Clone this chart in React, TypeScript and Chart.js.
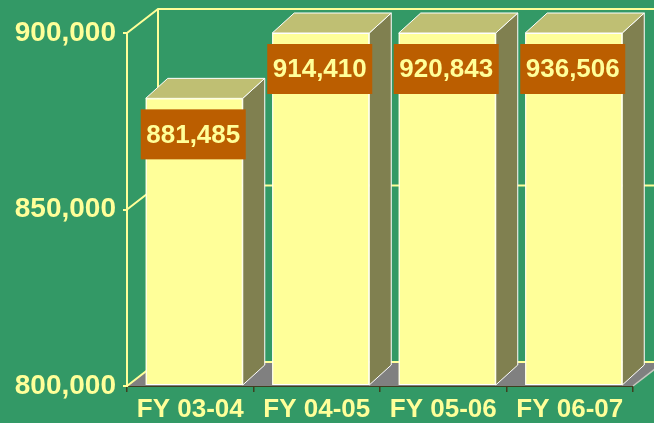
import React, { useEffect, useRef } from "react";
import { Chart, registerables } from "chart.js";

Chart.register(...registerables);

const categories = ["FY 03-04", "FY 04-05", "FY 05-06", "FY 06-07"];
const enrollment = [881485, 914410, 920843, 936506];
const yMin = 800000;
const yMax = 900000;
const yStep = 50000;
const yTickValues = [800000, 850000, 900000];

const BG = "#339966";
const YELLOW = "#FFFF99";
const FRONT = "#FFFF99";
const TOP = "#BFBF73";
const SIDE = "#808050";
const FLOOR = "#808080";
const LABEL_BOX = "#BB5E00";
const AXIS_DARK = "#3F3F1F";
const FONT = '"Liberation Sans", Arial, Helvetica, sans-serif';

const WALL_DX = 31;
const WALL_DY = -24;
const BAR_DX = 22;
const BAR_DY = -20;
const BAR_SHIFT = 4;

const fmt = (v: number) => v.toLocaleString("en-US");

const threeD = {
  id: "threeD",
  beforeDatasetsDraw(chart: any) {
    const { ctx, chartArea: a, scales } = chart;
    const ys = scales.y;
    const W = chart.width;
    ctx.save();
    // floor
    ctx.fillStyle = FLOOR;
    ctx.beginPath();
    ctx.moveTo(a.left, a.bottom);
    ctx.lineTo(a.right, a.bottom);
    ctx.lineTo(a.right + WALL_DX, a.bottom + WALL_DY);
    ctx.lineTo(a.left + WALL_DX, a.bottom + WALL_DY);
    ctx.closePath();
    ctx.fill();
    // floor right edge
    ctx.strokeStyle = "#C8C8C0";
    ctx.lineWidth = 1.5;
    ctx.beginPath();
    ctx.moveTo(a.right, a.bottom);
    ctx.lineTo(a.right + WALL_DX, a.bottom + WALL_DY);
    ctx.stroke();
    // wall gridlines
    ctx.strokeStyle = YELLOW;
    ctx.lineWidth = 2;
    yTickValues.forEach((v) => {
      const py = ys.getPixelForValue(v);
      ctx.beginPath();
      ctx.moveTo(a.left, py);
      ctx.lineTo(a.left + WALL_DX, py + WALL_DY);
      ctx.lineTo(W, py + WALL_DY);
      ctx.stroke();
    });
    // back left vertical edge
    ctx.beginPath();
    ctx.moveTo(a.left + WALL_DX, a.top + WALL_DY);
    ctx.lineTo(a.left + WALL_DX, a.bottom + WALL_DY);
    ctx.stroke();
    ctx.restore();
  },
  afterDatasetsDraw(chart: any) {
    const { ctx, chartArea: a } = chart;
    const meta = chart.getDatasetMeta(0);
    ctx.save();
    ctx.lineWidth = 1;
    ctx.strokeStyle = "#FFFFFF";
    ctx.lineJoin = "miter";
    const boxes: any[] = [];
    meta.data.forEach((el: any, i: number) => {
      const p = el.getProps(["x", "y", "base", "width"], true);
      const l = p.x - p.width / 2 + BAR_SHIFT;
      const r = p.x + p.width / 2 + BAR_SHIFT;
      const t = Math.max(Math.min(p.y, p.base), a.top);
      const b = Math.min(Math.max(p.y, p.base), a.bottom) - 1;
      // side face
      ctx.fillStyle = SIDE;
      ctx.beginPath();
      ctx.moveTo(r, t);
      ctx.lineTo(r + BAR_DX, t + BAR_DY);
      ctx.lineTo(r + BAR_DX, b + BAR_DY);
      ctx.lineTo(r, b);
      ctx.closePath();
      ctx.fill();
      ctx.stroke();
      // top face
      ctx.fillStyle = TOP;
      ctx.beginPath();
      ctx.moveTo(l, t);
      ctx.lineTo(r, t);
      ctx.lineTo(r + BAR_DX, t + BAR_DY);
      ctx.lineTo(l + BAR_DX, t + BAR_DY);
      ctx.closePath();
      ctx.fill();
      ctx.stroke();
      // front face
      ctx.fillStyle = FRONT;
      ctx.fillRect(l, t, r - l, b - t);
      ctx.strokeRect(l + 0.5, t + 0.5, r - l - 1, b - t - 1);
      boxes.push({ cx: (l + r) / 2 - 1, cy: t + 36, text: fmt(enrollment[i]) });
    });
    ctx.font = `bold 26px ${FONT}`;
    ctx.textAlign = "center";
    ctx.textBaseline = "middle";
    boxes.forEach((bx) => {
      ctx.fillStyle = LABEL_BOX;
      ctx.fillRect(bx.cx - 52.5, bx.cy - 25, 105, 50);
      ctx.fillStyle = YELLOW;
      ctx.fillText(bx.text, bx.cx, bx.cy + 1);
    });
    ctx.restore();
  },
};

export default function App() {
  const ref = useRef<HTMLCanvasElement | null>(null);
  useEffect(() => {
    if (!ref.current) return;
    const chart = new Chart(ref.current, {
      type: "bar",
      data: {
        labels: categories,
        datasets: [
          {
            label: "Enrollment",
            data: enrollment,
            backgroundColor: "rgba(0,0,0,0)",
            borderWidth: 0,
            barPercentage: 0.767,
            categoryPercentage: 1,
          },
        ],
      },
      options: {
        responsive: false,
        animation: false,
        layout: { padding: { top: 33, right: 21, left: 0, bottom: 0 } },
        plugins: { legend: { display: false }, tooltip: { enabled: false } },
        scales: {
          x: {
            z: 1,
            grid: {
              display: true,
              drawOnChartArea: false,
              drawTicks: true,
              tickLength: 6,
              color: AXIS_DARK,
              lineWidth: 1.5,
              offset: true,
            },
            border: { display: true, color: AXIS_DARK, width: 2 },
            ticks: {
              color: YELLOW,
              font: { family: FONT, size: 26, weight: "bold" },
              padding: 2,
              maxRotation: 0,
              autoSkip: false,
            },
            afterFit: (s: any) => {
              s.height = 37;
            },
          },
          y: {
            min: yMin,
            max: yMax,
            grid: {
              display: true,
              drawOnChartArea: false,
              drawTicks: true,
              tickLength: 4,
              color: YELLOW,
              lineWidth: 2,
            },
            border: { display: true, color: YELLOW, width: 2 },
            ticks: {
              stepSize: yStep,
              color: YELLOW,
              font: { family: FONT, size: 28, weight: "bold" },
              padding: 7,
              callback: (v: any) => fmt(Number(v)),
            },
            afterFit: (s: any) => {
              s.width = 127;
            },
          },
        },
      },
      plugins: [threeD],
    });
    return () => chart.destroy();
  }, []);
  return (
    <div
      style={{
        position: "fixed",
        left: 0,
        top: 0,
        width: 654,
        height: 423,
        background: BG,
        overflow: "hidden",
      }}
    >
      <canvas ref={ref} width={654} height={423} style={{ display: "block" }} />
    </div>
  );
}
